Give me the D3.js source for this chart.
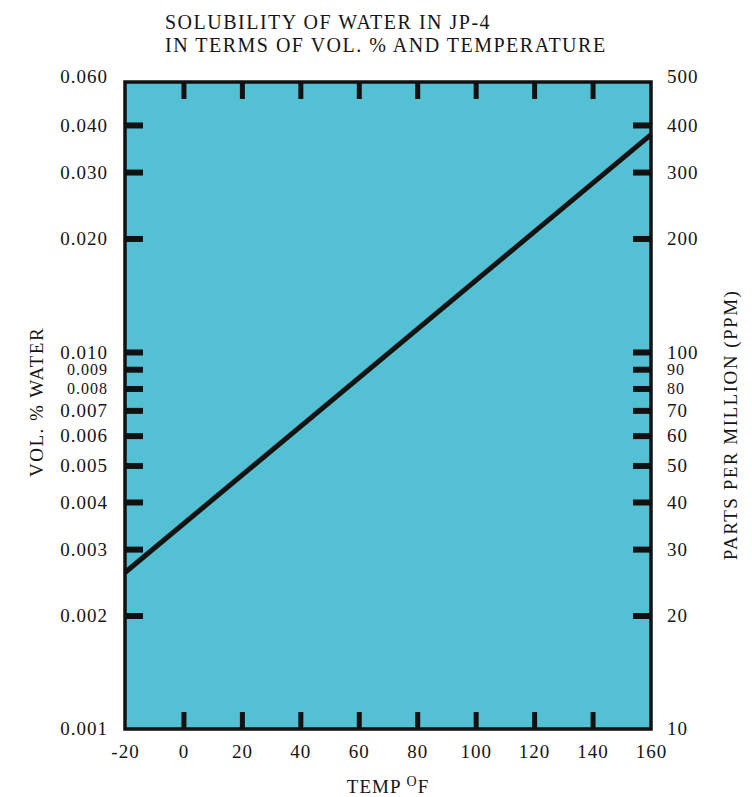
<!DOCTYPE html>
<html>
<head>
<meta charset="utf-8">
<script src="https://cdn.jsdelivr.net/npm/d3@7/dist/d3.min.js"></script>
<style>
  body { margin: 0; background: #fff; }
  svg text { font-family: "Liberation Serif", "Times New Roman", serif; fill: #151515; }
</style>
</head>
<body>
<svg id="chart"></svg>
<script>
const width = 752, height = 797;

// data
const tempTicks = [0, 20, 40, 60, 80, 100, 120, 140];
const tempLabels = [-20, 0, 20, 40, 60, 80, 100, 120, 140, 160];
const volTicks = [0.04, 0.03, 0.02, 0.01, 0.009, 0.008, 0.007, 0.006, 0.005, 0.004, 0.003, 0.002];
const ppmTicks = [400, 300, 200, 100, 90, 80, 70, 60, 50, 40, 30, 20];
const volEnds = ["0.001", "0.060"];
const ppmEnds = ["10", "500"];
const lineTemp = [-20, 160];
const lineVol = [0.0026, 0.0377];

const m = { left: 125, right: 651, top: 82, bottom: 729 };
const fs = 19;
// the tightly packed labels near 0.009 / 0.008 are set a little smaller
const smallVol = [0.009, 0.008];
const smallPpm = [90, 80];

const svg = d3.select("#chart").attr("width", width).attr("height", height);

const x = d3.scaleLinear().domain([-20, 160]).range([m.left, m.right]);
const y = d3.scaleLog().domain([0.001, 0.052]).range([m.bottom, m.top]);
const yPpm = d3.scaleLog().domain([10, 520]).range([m.bottom, m.top]);

// plot background
svg.append("rect")
   .attr("x", m.left).attr("y", m.top)
   .attr("width", m.right - m.left).attr("height", m.bottom - m.top)
   .attr("fill", "#53c0d3");

// title
svg.append("text").attr("x", 165).attr("y", 29)
   .attr("font-size", 20).attr("letter-spacing", 1.5)
   .text("SOLUBILITY OF WATER IN JP-4");
svg.append("text").attr("x", 165).attr("y", 52)
   .attr("font-size", 20).attr("letter-spacing", 1.5)
   .text("IN TERMS OF VOL. % AND TEMPERATURE");

const styleTicks = (g, w, small = []) => {
    g.select(".domain").remove();
    g.selectAll(".tick line").attr("stroke", "#111").attr("stroke-width", w);
    g.selectAll(".tick text")
     .attr("font-size", d => small.includes(d) ? 16 : fs)
     .attr("fill", "#151515")
     .attr("letter-spacing", 1)
     .attr("font-family", "Liberation Serif, serif");
};

// left axis (vol %)
svg.append("g")
   .attr("transform", `translate(${m.left},0)`)
   .call(d3.axisLeft(y).tickValues(volTicks).tickSizeInner(-18).tickSizeOuter(0)
          .tickPadding(17).tickFormat(d3.format(".3f")))
   .call(g => styleTicks(g, 6, smallVol));

// right axis (ppm)
svg.append("g")
   .attr("transform", `translate(${m.right},0)`)
   .call(d3.axisRight(yPpm).tickValues(ppmTicks).tickSizeInner(-18).tickSizeOuter(0)
          .tickPadding(16).tickFormat(d => String(d)))
   .call(g => styleTicks(g, 6, smallPpm));

// end labels at top / bottom of the frame
svg.append("g").selectAll("text").data(volEnds).join("text")
   .attr("x", m.left - 17)
   .attr("y", (d, i) => i === 0 ? m.bottom : m.top - 5)
   .attr("dy", "0.32em").attr("text-anchor", "end")
   .attr("font-size", fs).attr("letter-spacing", 1)
   .text(d => d);
svg.append("g").selectAll("text").data(ppmEnds).join("text")
   .attr("x", m.right + 16)
   .attr("y", (d, i) => i === 0 ? m.bottom : m.top - 5)
   .attr("dy", "0.32em").attr("font-size", fs).attr("letter-spacing", 1)
   .text(d => d);

// top & bottom tick marks
svg.append("g")
   .attr("transform", `translate(0,${m.bottom})`)
   .call(d3.axisBottom(x).tickValues(tempTicks).tickSizeInner(-17).tickSizeOuter(0).tickFormat(""))
   .call(g => styleTicks(g, 5));
svg.append("g")
   .attr("transform", `translate(0,${m.top})`)
   .call(d3.axisTop(x).tickValues(tempTicks).tickSizeInner(-17).tickSizeOuter(0).tickFormat(""))
   .call(g => styleTicks(g, 5));

// bottom labels
svg.append("g")
   .attr("transform", `translate(0,${m.bottom})`)
   .call(d3.axisBottom(x).tickValues(tempLabels).tickSize(0).tickPadding(16).tickFormat(d => String(d)))
   .call(g => { styleTicks(g, 0); g.selectAll(".tick line").remove(); });

// frame
svg.append("rect")
   .attr("x", m.left).attr("y", m.top)
   .attr("width", m.right - m.left).attr("height", m.bottom - m.top)
   .attr("fill", "none").attr("stroke", "#111").attr("stroke-width", 3.5);

// solubility line
const line = d3.line().x(d => x(d[0])).y(d => y(d[1]));
svg.append("path")
   .datum(lineTemp.map((t, i) => [t, lineVol[i]]))
   .attr("d", line)
   .attr("fill", "none").attr("stroke", "#121212").attr("stroke-width", 5);

// axis titles
const xt = svg.append("text")
   .attr("x", 388).attr("y", 793)
   .attr("text-anchor", "middle").attr("font-size", fs).attr("letter-spacing", 1);
xt.append("tspan").text("TEMP ");
xt.append("tspan").attr("dy", -7).attr("font-size", 14).text("O");
xt.append("tspan").attr("dy", 7).text("F");

svg.append("text")
   .attr("transform", `translate(43,402) rotate(-90)`)
   .attr("text-anchor", "middle").attr("font-size", fs).attr("letter-spacing", 1.5)
   .text("VOL. % WATER");
svg.append("text")
   .attr("transform", `translate(737,425) rotate(-90)`)
   .attr("text-anchor", "middle").attr("font-size", fs).attr("letter-spacing", 1.5)
   .text("PARTS PER MILLION (PPM)");
</script>
</body>
</html>
